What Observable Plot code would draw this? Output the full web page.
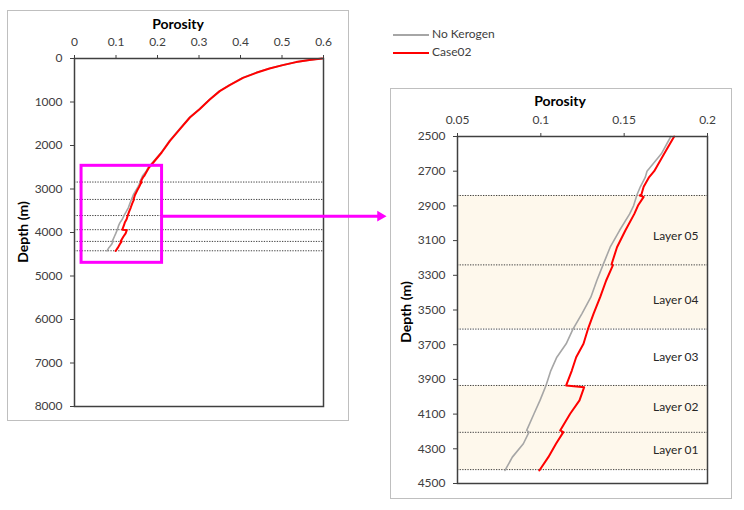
<!DOCTYPE html>
<html><head><meta charset="utf-8">
<script src="https://cdn.jsdelivr.net/npm/d3@7"></script>
<script src="https://cdn.jsdelivr.net/npm/@observablehq/plot@0.6"></script>
<style>
body{margin:0;background:#fff;font-family:Lato,"Open Sans",sans-serif;}
#root{position:relative;width:744px;height:510px;overflow:hidden;background:#fff;}
.box{position:absolute;border:1px solid #BFBFBF;box-sizing:border-box;}
.plot{position:absolute;}
.title{position:absolute;font-weight:bold;font-size:14px;color:#000;transform:translate(-50%,-50%);white-space:nowrap;}
.ytitle{position:absolute;font-weight:bold;font-size:14px;color:#000;transform:translate(-50%,-50%) rotate(-90deg);white-space:nowrap;}
.leg{position:absolute;font-size:12px;color:#404040;white-space:nowrap;line-height:14px;}
.leg span.ln{display:inline-block;width:36px;height:0;vertical-align:middle;margin-right:3px;}
</style></head>
<body><div id="root"></div>
<script>
// ---- data ----
const seriesNames = ["No Kerogen", "Case02"];
const depthCase02 = [0,37,83,152,230,329,444,612,750,943,1163,1356,1624,1892,2161,2391,2500,2600,2700,2734,2790,2836,2840,2848,2898,2946,3042,3138,3235,3243,3330,3426,3522,3612,3695,3772,3849,3935,3945,4021,4098,4194,4204,4271,4348,4425];
const porCase02 = [0.597,0.566,0.534,0.502,0.470,0.438,0.406,0.374,0.350,0.326,0.302,0.278,0.254,0.230,0.210,0.190,0.180,0.174,0.168,0.165,0.1617,0.1603,0.1593,0.1617,0.1583,0.1561,0.1507,0.1457,0.1425,0.1432,0.1392,0.1356,0.1316,0.1282,0.1256,0.1212,0.1186,0.1152,0.126,0.1232,0.1176,0.1116,0.1135,0.1091,0.1045,0.0991];
const depthNoKerogen = [0,37,83,152,230,329,444,612,750,943,1163,1356,1624,1892,2161,2391,2500,2600,2700,2734,2790,2836,2898,2946,3042,3138,3243,3330,3426,3522,3612,3695,3772,3849,3935,4021,4098,4194,4204,4271,4348,4425];
const porNoKerogen = [0.596,0.565,0.533,0.501,0.469,0.437,0.405,0.373,0.349,0.325,0.301,0.277,0.253,0.229,0.209,0.188,0.178,0.1723,0.1637,0.1627,0.1597,0.1577,0.1557,0.1533,0.1472,0.1416,0.1372,0.1336,0.130,0.1246,0.1192,0.1152,0.1096,0.106,0.1031,0.0995,0.0959,0.0915,0.0929,0.0895,0.0829,0.0785];
const layerBounds = [2840, 3240, 3610, 3935, 4205, 4420];
const shadedLayers = [{top: 2840, bottom: 3610}, {top: 3935, bottom: 4425}];
const layerNames = ["Layer 05", "Layer 04", "Layer 03", "Layer 02", "Layer 01"];
const layerLabelDepth = [3075, 3445, 3772, 4062, 4310];
const leftXTicks = [0, 0.1, 0.2, 0.3, 0.4, 0.5, 0.6];
const leftYTicks = [0,1000,2000,3000,4000,5000,6000,7000,8000];
const rightXTicks = [0.05, 0.1, 0.15, 0.2];
const rightYTicks = [2500,2700,2900,3100,3300,3500,3700,3900,4100,4300,4500];
const zoomBox = [{x1: 0.017, x2: 0.211, y1: 2467, y2: 4697}];
const zoomArrow = [{x1: 0.211, x2: 0.737, y: 3625}];

// ---- tables ----
const case02 = depthCase02.map((d, i) => ({depth: d, por: porCase02[i]}));
const noKer = depthNoKerogen.map((d, i) => ({depth: d, por: porNoKerogen[i]}));
const layers = layerNames.map((n, i) => ({name: n, depth: layerLabelDepth[i]}));
const bounds = layerBounds.map(d => ({depth: d}));
const fmt = d3.format("~g");
const GRAY = "#A6A6A6", RED = "#FF0000";

const root = document.getElementById("root");
function place(el, x, y){ el.style.left = x + "px"; el.style.top = y + "px"; return el; }
function div(cls, text, x, y){ const e = document.createElement("div"); e.className = cls; e.textContent = text; root.appendChild(place(e, x, y)); return e; }

// boxes
for (const [x, y] of [[7, 10], [390, 88]]) {
  const b = document.createElement("div"); b.className = "box";
  b.style.width = "342px"; b.style.height = "411px";
  root.appendChild(place(b, x, y));
}

const common = {
  width: 341, height: 410,
  style: {fontFamily: "Lato, 'Open Sans', sans-serif", fontSize: "12px", color: "#404040", background: "transparent", overflow: "visible"}
};

const left = Plot.plot({
  ...common,
  marginLeft: 67, marginRight: 25, marginTop: 48, marginBottom: 14,
  x: {domain: [0, 0.6], axis: "top", ticks: leftXTicks, tickFormat: fmt, tickSize: 4, tickPadding: 9, label: null},
  y: {domain: [0, 8000], reverse: true, ticks: leftYTicks, tickFormat: d => String(d), tickSize: 4, tickPadding: 8, label: null},
  marks: [
    Plot.ruleY(bounds, {y: "depth", stroke: "#404040", strokeWidth: 1, strokeDasharray: "1.3,1.3"}),
    Plot.line(noKer, {x: "por", y: "depth", stroke: GRAY, strokeWidth: 1.6}),
    Plot.line(case02, {x: "por", y: "depth", stroke: RED, strokeWidth: 2}),
    Plot.frame({stroke: "#404040", strokeWidth: 1.5}),
    Plot.rect(zoomBox, {x1: "x1", x2: "x2", y1: "y1", y2: "y2", fill: "none", stroke: "#FF00FF", strokeWidth: 3}),
    Plot.ruleY(zoomArrow, {y: "y", x1: "x1", x2: "x2", stroke: "#FF00FF", strokeWidth: 3}),
    Plot.dot(zoomArrow, {x: "x2", y: "y", symbol: "triangle", rotate: 90, r: 4, fill: "#FF00FF", stroke: "none"})
  ]
});
left.style.overflow = "visible";
left.classList.add("plot");
root.appendChild(place(left, 7, 10));

const right = Plot.plot({
  ...common,
  marginLeft: 67, marginRight: 24, marginTop: 48, marginBottom: 15,
  x: {domain: [0.05, 0.2], axis: "top", ticks: rightXTicks, tickFormat: fmt, tickSize: 4, tickPadding: 9, label: null},
  y: {domain: [2500, 4500], reverse: true, ticks: rightYTicks, tickFormat: d => String(d), tickSize: 4, tickPadding: 8, label: null},
  marks: [
    Plot.rect(shadedLayers, {y1: "top", y2: "bottom", fill: "#FEF8EC"}),
    Plot.ruleY(bounds, {y: "depth", stroke: "#404040", strokeWidth: 1, strokeDasharray: "1.3,1.3"}),
    Plot.text(layers, {y: "depth", text: "name", frameAnchor: "right", textAnchor: "end", dx: -9, fill: "#262626", fontSize: 12}),
    Plot.line(noKer.filter(d => d.depth >= 2500), {x: "por", y: "depth", stroke: GRAY, strokeWidth: 1.6}),
    Plot.line(case02.filter(d => d.depth >= 2500), {x: "por", y: "depth", stroke: RED, strokeWidth: 2}),
    Plot.frame({stroke: "#404040", strokeWidth: 1.5})
  ]
});
right.classList.add("plot");
root.appendChild(place(right, 390, 88));

// titles
div("title", "Porosity", 178, 23);
div("title", "Porosity", 560, 100);
div("ytitle", "Depth (m)", 22, 232);
div("ytitle", "Depth (m)", 405, 312);

// legend
[[GRAY, seriesNames[0], 27], [RED, seriesNames[1], 45]].forEach(([c, t, y], i) => {
  const e = document.createElement("div"); e.className = "leg";
  const ln = document.createElement("span"); ln.className = "ln";
  ln.style.borderTop = (i === 0 ? "2px" : "2.5px") + " solid " + c;
  e.appendChild(ln); e.appendChild(document.createTextNode(t));
  root.appendChild(place(e, 393, y));
});
</script></body></html>
